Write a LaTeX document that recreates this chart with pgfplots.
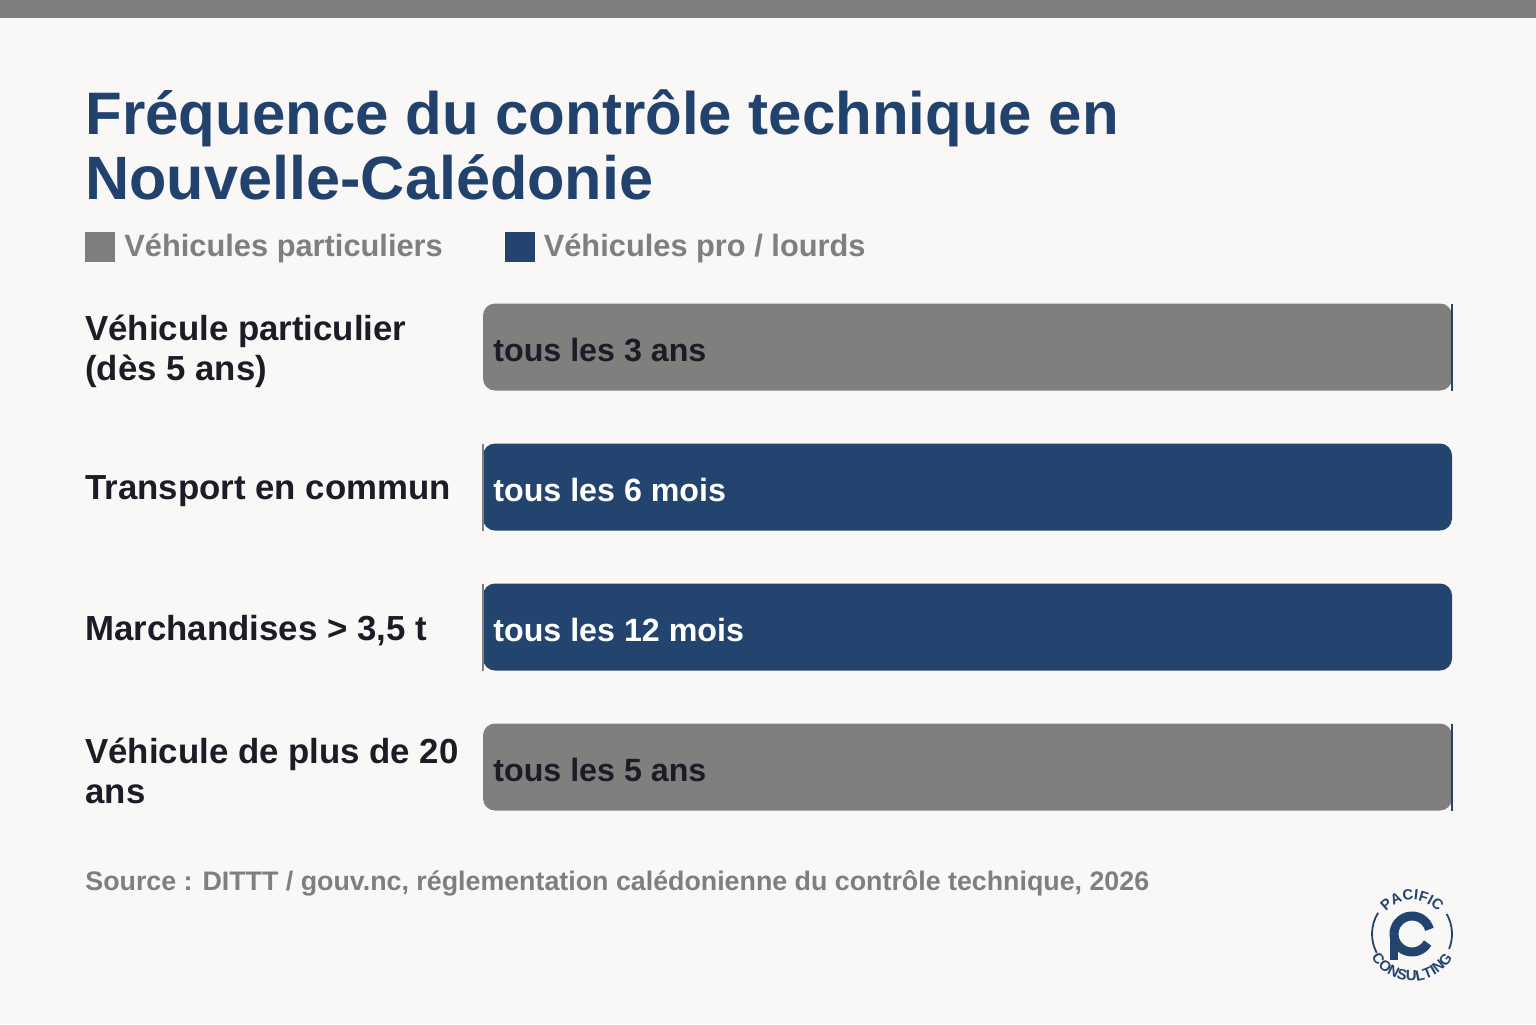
\documentclass[border=0pt]{standalone}
\usepackage{fontspec}
\setmainfont{Liberation Sans}
\usepackage{pgfplots}
\pgfplotsset{compat=1.18}
\usetikzlibrary{decorations.text}
\definecolor{bg}{HTML}{F9F8F6}
\definecolor{cgray}{HTML}{807F7D}
\definecolor{cblue}{HTML}{23446F}
\definecolor{ctitle}{HTML}{22426E}
\definecolor{cdark}{HTML}{1C1C26}
\begin{document}
\begin{tikzpicture}
\fill[bg] (0pt,0pt) rectangle (768pt,512pt);
\fill[cgray] (0pt,503pt) rectangle (768pt,512pt);
\useasboundingbox (0pt,0pt) rectangle (768pt,512pt);
\node[anchor=base west, inner sep=0, font=\bfseries\fontsize{30}{32}\selectfont, text=ctitle] at (42.5pt,444.5pt) {Fréquence du contrôle technique en};
\node[anchor=base west, inner sep=0, font=\bfseries\fontsize{30.6}{32}\selectfont, text=ctitle] at (42.5pt,412pt) {Nouvelle-Calédonie};
\node[anchor=base west, inner sep=0, font=\bfseries\fontsize{13.4}{15}\selectfont, text=cgray] at (42.5pt,67pt) {Source : DITTT / gouv.nc, réglementation calédonienne du contrôle technique, 2026};
\begin{axis}[
  at={(241.5pt,93.5pt)}, anchor=south west, scale only axis,
  width=484.5pt, height=280pt,
  xbar, bar width=43.5pt, bar shift=0pt,
  xmin=0, xmax=1, ymin=-0.5, ymax=3.5, y dir=reverse,
  axis line style={draw=none}, xtick=\empty,
  ytick={0,1,2,3}, major tick length=0pt,
  unbounded coords=jump,
  yticklabels={{Véhicule particulier\\(dès 5 ans)},{Transport en commun},{Marchandises > 3,5 t},{Véhicule de plus de 20\\ans}},
  yticklabel style={anchor=west, xshift=-199pt, yshift=-2pt, inner sep=0pt, align=left, font=\bfseries\fontsize{17.4}{20}\selectfont, text=cdark},
  legend columns=2,
  legend style={at={(axis description cs:-0.4107,1.0536)}, anchor=west, draw=none, fill=none, inner sep=0pt,
    font=\bfseries\fontsize{15.4}{17}\selectfont, text=cgray,
    nodes={inner xsep=4.5pt},
    /tikz/every even column/.append style={column sep=26.5pt}},
  legend image code/.code={\fill[#1, sharp corners] (0pt,-7.5pt) rectangle (15pt,7.5pt);},
  clip=false,
]
\addplot[fill=cgray, draw=none, rounded corners=6pt] coordinates {(1,0) (1,3)};
\addplot[fill=cblue, draw=none, rounded corners=6pt] coordinates {(1,1) (1,2)};
\addplot[cblue, line width=0.6pt, sharp plot, mark=none, forget plot] coordinates {(1,-0.3107) (1,0.3107) (nan,nan) (1,2.6893) (1,3.3107)};
\addplot[cgray, line width=0.6pt, sharp plot, mark=none, forget plot] coordinates {(0,0.6893) (0,1.3107) (nan,nan) (0,1.6893) (0,2.3107)};
\legend{Véhicules particuliers, Véhicules pro / lourds}
\node[anchor=west, inner sep=0, xshift=5pt, yshift=-1.5pt, font=\bfseries\fontsize{16.1}{20}\selectfont, text=cdark] at (axis cs:0,0) {tous les 3 ans};
\node[anchor=west, inner sep=0, xshift=5pt, yshift=-1.5pt, font=\bfseries\fontsize{16.1}{20}\selectfont, text=white] at (axis cs:0,1) {tous les 6 mois};
\node[anchor=west, inner sep=0, xshift=5pt, yshift=-1.5pt, font=\bfseries\fontsize{16.1}{20}\selectfont, text=white] at (axis cs:0,2) {tous les 12 mois};
\node[anchor=west, inner sep=0, xshift=5pt, yshift=-1.5pt, font=\bfseries\fontsize{16.1}{20}\selectfont, text=cdark] at (axis cs:0,3) {tous les 5 ans};
\end{axis}
\begin{scope}[shift={(706pt,45pt)}, x=1pt, y=1pt]
\draw[cblue, line width=0.9pt] (148:20) arc (148:208:20);
\draw[cblue, line width=0.9pt] (-22:20) arc (-22:30:20);
\path[decorate, decoration={text along path, text={|\bfseries\fontsize{7.4}{8}\selectfont\color{cblue}|PACIFIC}, text align=center}] (150:17) arc (150:30:17);
\path[decorate, decoration={text along path, text={|\bfseries\fontsize{7.4}{8}\selectfont\color{cblue}|CONSULTING}, text align=center}] (200:23.5) arc (200:340:23.5);
\draw[cblue, line width=4.5pt] (15:9) arc (15:330:9);
\fill[cblue] (-11.2,1) rectangle (-6.8,-13);
\end{scope}
\end{tikzpicture}
\end{document}
